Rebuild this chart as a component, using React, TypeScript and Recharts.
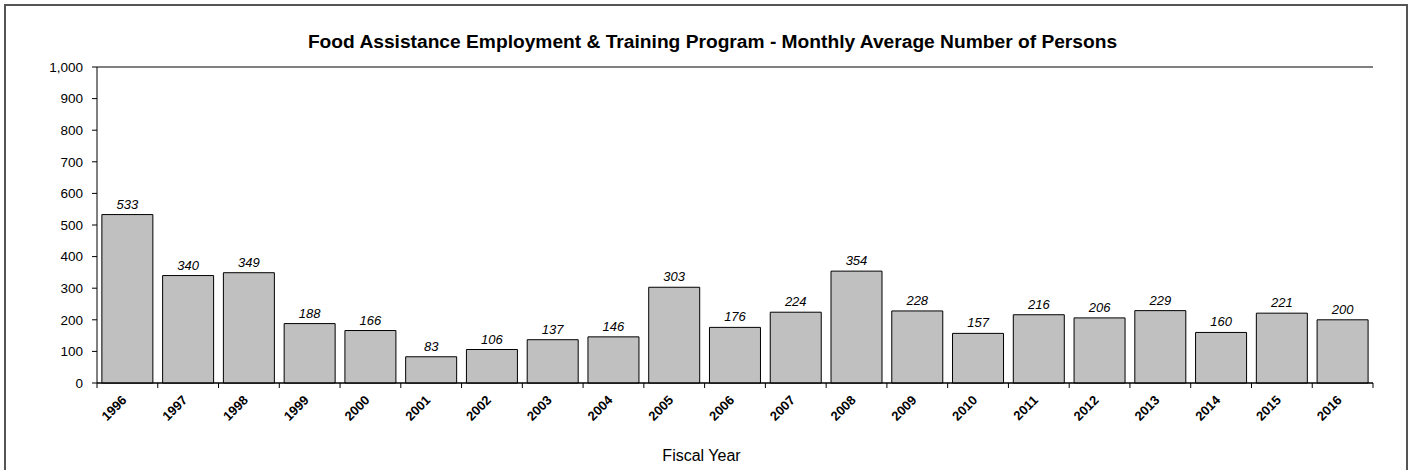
import React from 'react'
import { BarChart, Bar, XAxis, YAxis, CartesianGrid, LabelList } from 'recharts'

const years = ['1996', '1997', '1998', '1999', '2000', '2001', '2002', '2003', '2004', '2005', '2006',
  '2007', '2008', '2009', '2010', '2011', '2012', '2013', '2014', '2015', '2016']
const persons = [533, 340, 349, 188, 166, 83, 106, 137, 146, 303, 176, 224, 354, 228, 157, 216, 206, 229, 160, 221, 200]
const yTicks = [0, 100, 200, 300, 400, 500, 600, 700, 800, 900, 1000]

const data = years.map((year, i) => ({ year, value: persons[i] }))

const FONT = 'Arial, "Liberation Sans", sans-serif'

// category ticks sit between the bars, Excel style
const YearTick = (props: any) => {
  const { x, y, payload, index } = props
  const half = payload.offset || 0
  const tx = x
  const ty = y + 18
  return (
    <g>
      <line x1={x - half} x2={x - half} y1={y} y2={y + 5} stroke="#000" />
      {index === years.length - 1 && <line x1={x + half} x2={x + half} y1={y} y2={y + 5} stroke="#000" />}
      <text x={tx} y={ty} textAnchor="end" transform={`rotate(-45, ${tx}, ${ty})`}
        fontFamily={FONT} fontSize={13} fontWeight="bold" fill="#000">
        {payload.value}
      </text>
    </g>
  )
}

export default function App() {
  return (
    <div style={{ position: 'absolute', left: 0, top: 0, width: 1409, height: 470, overflow: 'hidden', background: '#fff', fontFamily: FONT }}>
      <div style={{ position: 'absolute', left: 4, top: 4, width: 1404, height: 500, boxSizing: 'border-box', border: '2px solid #555' }} />
      <div style={{ position: 'absolute', left: 8, top: 31, width: 1409, textAlign: 'center', fontSize: 19.2, fontWeight: 'bold', lineHeight: '22px', color: '#000' }}>
        Food Assistance Employment &amp; Training Program - Monthly Average Number of Persons
      </div>
      <div style={{ position: 'absolute', left: -3, top: 447, width: 1409, textAlign: 'center', fontSize: 16, lineHeight: '18px', color: '#000' }}>
        Fiscal Year
      </div>
      <div style={{ position: 'absolute', left: 0, top: 0 }}>
        <BarChart width={1409} height={470} data={data} barCategoryGap="8%"
          margin={{ top: 67, right: 36, bottom: 0, left: 0 }}>
          <CartesianGrid horizontal vertical={false} stroke="#000" strokeWidth={1} />
          <XAxis xAxisId="cat" dataKey="year" interval={0} height={87} tickLine={false}
            tickSize={0} tickMargin={0} axisLine={{ stroke: '#000' }} tick={YearTick} />
          <YAxis yAxisId="left" domain={[0, 1000]} ticks={yTicks} width={97} tickSize={5} tickMargin={9}
            axisLine={{ stroke: '#000' }} tickLine={{ stroke: '#000' }}
            tickFormatter={(v: number) => v.toLocaleString('en-US')}
            tick={{ fill: '#000', fontSize: 13.5, fontFamily: FONT }} />
          <YAxis yAxisId="right" orientation="right" domain={[0, 1000]} width={0} tick={false}
            tickLine={false} axisLine={{ stroke: '#000' }} />
          <Bar xAxisId="cat" yAxisId="left" dataKey="value" fill="#c0c0c0" stroke="#000" strokeWidth={1}
            isAnimationActive={false}>
            <LabelList dataKey="value" position="top" offset={6}
              style={{ fontStyle: 'italic', fontSize: 13, fontFamily: FONT, fill: '#000' }} />
          </Bar>
        </BarChart>
      </div>
    </div>
  )
}
